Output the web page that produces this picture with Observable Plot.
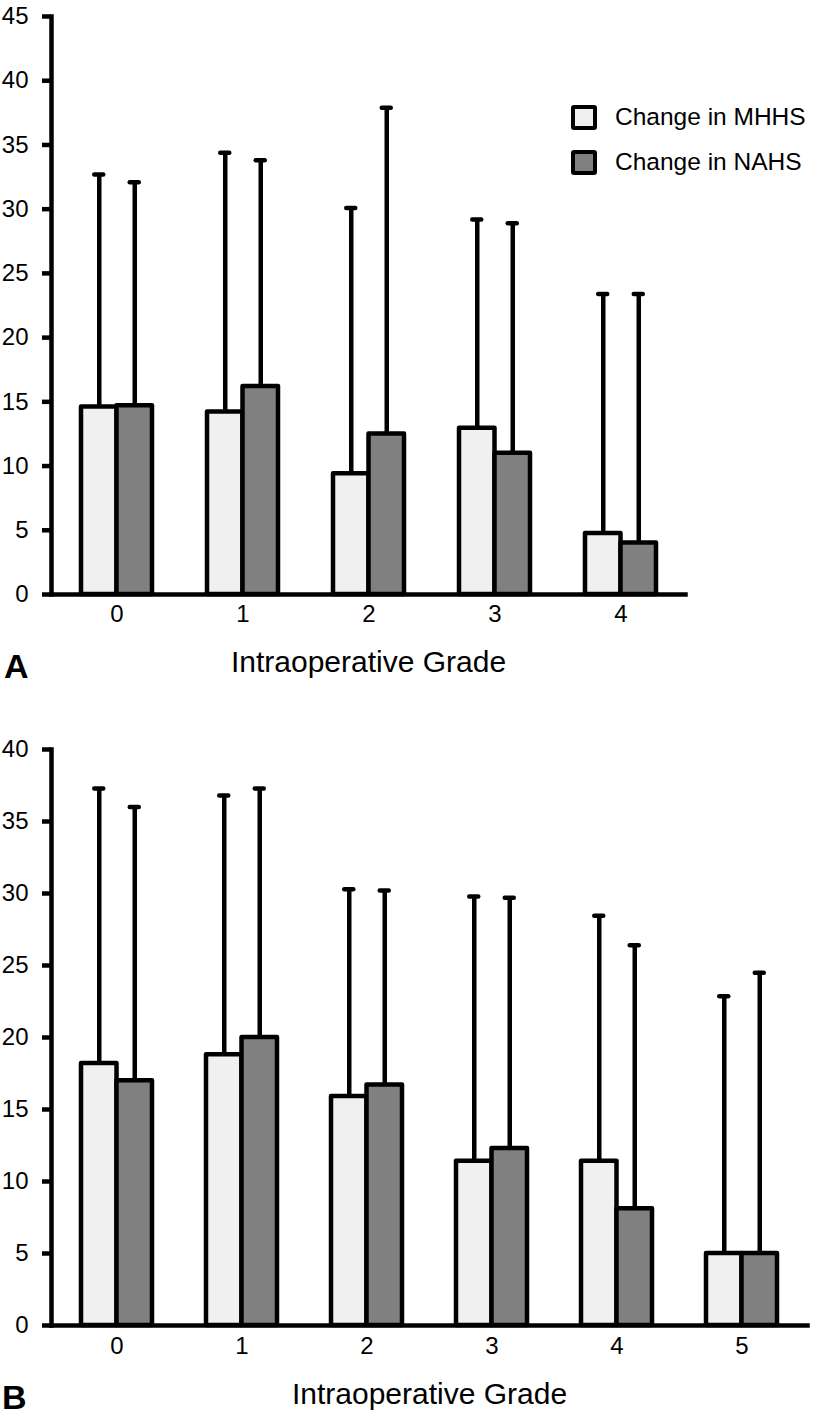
<!DOCTYPE html>
<html><head><meta charset="utf-8">
<script src="https://cdn.jsdelivr.net/npm/d3@7"></script>
<script src="https://cdn.jsdelivr.net/npm/@observablehq/plot@0.6"></script>
<style>
body{margin:0;background:#fff;}
#wrap{position:relative;width:815px;height:1420px;font-family:"Liberation Sans",Arial,Helvetica,sans-serif;color:#000;background:#fff;overflow:hidden;}
.panel{position:absolute;left:0;}
.sw{position:absolute;box-sizing:border-box;width:26px;height:25px;border:4.5px solid #000;border-radius:3px;}
.lt{position:absolute;font-size:24.5px;line-height:24.5px;white-space:nowrap;}
.letter{position:absolute;font-size:34px;line-height:34px;font-weight:bold;}
</style></head><body>
<div id="wrap">
  <div id="pa" class="panel" style="top:0px"></div>
  <div id="pb" class="panel" style="top:700px"></div>
  <div class="sw" style="left:571px;top:105px;background:#f0f0f0"></div>
  <div class="lt" style="left:615px;top:105px">Change in MHHS</div>
  <div class="sw" style="left:571px;top:150px;background:#808080"></div>
  <div class="lt" style="left:615px;top:150px">Change in NAHS</div>
  <div class="letter" style="left:4px;top:649px">A</div>
  <div class="letter" style="left:2px;top:1380px">B</div>
</div>
<script>
// Panel A data
const gradesA = ["0", "1", "2", "3", "4"];
const mhhsA   = [14.6, 14.2, 9.4, 12.95, 4.75];
const mhhsHiA = [32.7, 34.4, 30.1, 29.2, 23.4];
const nahsA   = [14.7, 16.2, 12.5, 11.0, 4.0];
const nahsHiA = [32.1, 33.8, 37.9, 28.9, 23.4];
const yTicksA = [0, 5, 10, 15, 20, 25, 30, 35, 40, 45];

// Panel B data
const gradesB = ["0", "1", "2", "3", "4", "5"];
const mhhsB   = [18.2, 18.8, 15.9, 11.4, 11.4, 5.0];
const mhhsHiB = [37.3, 36.8, 30.3, 29.8, 28.45, 22.87];
const nahsB   = [17.0, 20.0, 16.7, 12.3, 8.1, 5.0];
const nahsHiB = [36.0, 37.3, 30.2, 29.7, 26.4, 24.5];
const yTicksB = [0, 5, 10, 15, 20, 25, 30, 35, 40];

const xTitle = "Intraoperative Grade";

const LIGHT = "#f0f0f0", DARK = "#808080", SW = 4.5;

function panel(o) {
  const rows = o.grades.map((g, i) => ({grade: g, mhhs: o.mhhs[i], mhhsHi: o.mhhsHi[i], nahs: o.nahs[i], nahsHi: o.nahsHi[i]}));
  return Plot.plot({
    width: 815,
    height: o.height,
    marginLeft: 51,
    marginRight: o.marginRight,
    marginTop: o.marginTop,
    marginBottom: o.marginBottom,
    style: {fontFamily: '"Liberation Sans", Arial, Helvetica, sans-serif', fontSize: "24px", color: "#000", background: "transparent", overflow: "visible"},
    x: {domain: o.grades, paddingInner: o.paddingInner, paddingOuter: o.paddingOuter, label: null, axis: null},
    y: {domain: [0, o.yMax], label: null},
    marks: [
      Plot.barY(rows, {x: "grade", y: "mhhs", fill: LIGHT, stroke: "#000", strokeWidth: SW, insetRight: 35.5, strokeLinejoin: "round"}),
      Plot.barY(rows, {x: "grade", y: "nahs", fill: DARK, stroke: "#000", strokeWidth: SW, insetLeft: 35.5, strokeLinejoin: "round"}),
      Plot.ruleX(rows, {x: "grade", y1: "mhhs", y2: "mhhsHi", dx: -17.75, stroke: "#000", strokeWidth: SW}),
      Plot.ruleX(rows, {x: "grade", y1: "nahs", y2: "nahsHi", dx: 17.75, stroke: "#000", strokeWidth: SW}),
      Plot.tickY(rows, {x: "grade", y: "mhhsHi", dx: -17.75, insetLeft: 31, insetRight: 31, stroke: "#000", strokeWidth: SW, strokeLinecap: "round"}),
      Plot.tickY(rows, {x: "grade", y: "nahsHi", dx: 17.75, insetLeft: 31, insetRight: 31, stroke: "#000", strokeWidth: SW, strokeLinecap: "round"}),
      Plot.frame({anchor: "left", stroke: "#000", strokeWidth: SW}),
      Plot.frame({anchor: "bottom", stroke: "#000", strokeWidth: SW}),
      Plot.axisY({ticks: o.yTicks, tickSize: 9, tickFormat: () => "", stroke: "#000", strokeWidth: SW, label: null}),
      // y tick labels
      Plot.text(o.yTicks, {y: d => d, text: d => String(d), frameAnchor: "left", textAnchor: "end", dx: -23, fontSize: 24, fill: "#000"}),
      // x tick labels
      Plot.text(o.grades, {x: d => d, text: d => d, frameAnchor: "bottom", dy: o.xDy, fontSize: 24, fill: "#000"}),
      Plot.text([xTitle], {text: d => d, frameAnchor: "bottom", dy: o.titleDy, fontSize: 30, fill: "#000"})
    ]
  });
}

document.getElementById("pa").appendChild(panel({
  grades: gradesA, mhhs: mhhsA, mhhsHi: mhhsHiA, nahs: nahsA, nahsHi: nahsHiA,
  yMax: 45, yTicks: yTicksA, height: 700, marginTop: 16, marginBottom: 106, marginRight: 130,
  paddingInner: 0.44, paddingOuter: 0.22, xDy: 27.5, titleDy: 77
}));
document.getElementById("pb").appendChild(panel({
  grades: gradesB, mhhs: mhhsB, mhhsHi: mhhsHiB, nahs: nahsB, nahsHi: nahsHiB,
  yMax: 40, yTicks: yTicksB, height: 720, marginTop: 49, marginBottom: 95, marginRight: 8,
  paddingInner: 0.434, paddingOuter: 0.2315, xDy: 28.5, titleDy: 78
}));
</script>
</body></html>
